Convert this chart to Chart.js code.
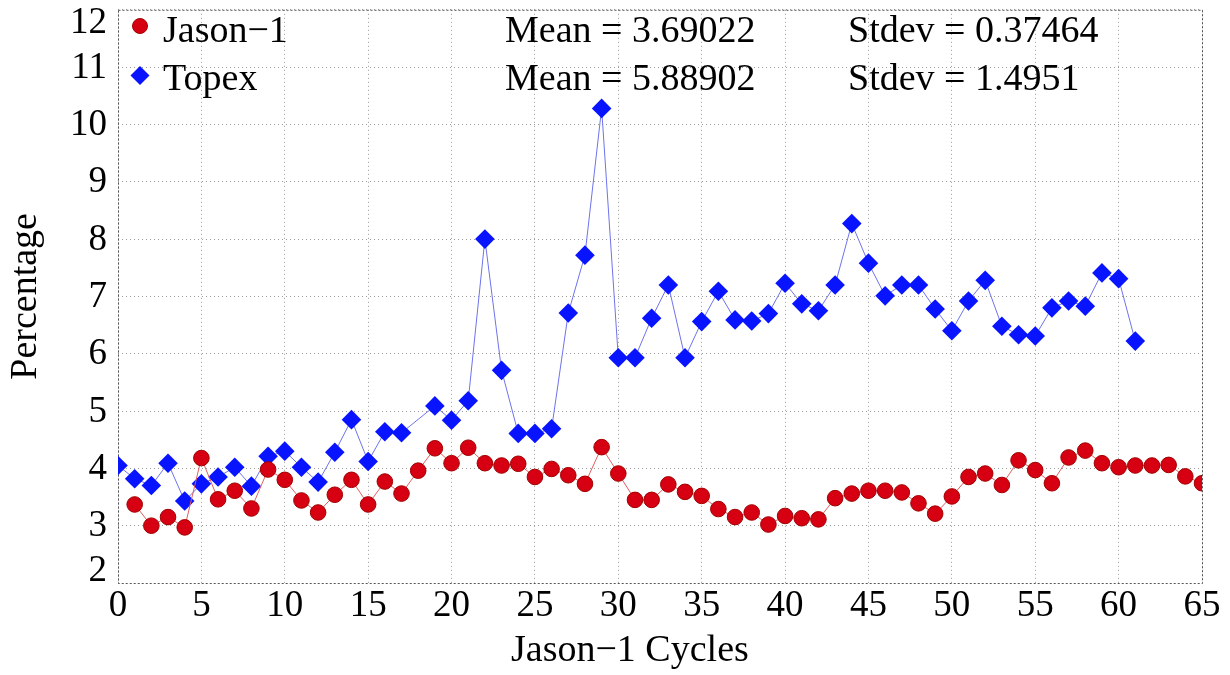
<!DOCTYPE html>
<html>
<head>
<meta charset="utf-8">
<title>Jason-1 / Topex</title>
<script src="https://cdn.jsdelivr.net/npm/chart.js@4.4.0/dist/chart.umd.min.js"></script>
<style>
  html, body { margin: 0; padding: 0; background: #fff; }
  #chart { display: block; }
</style>
</head>
<body>
<canvas id="chart" width="1230" height="675"></canvas>
<script>
// Jason-1 cycles and percentages
const jasonCycles = [1, 2, 3, 4, 5, 6, 7, 8, 9, 10, 11, 12, 13, 14, 15, 16, 17, 18, 19, 20,
    21, 22, 23, 24, 25, 26, 27, 28, 29, 30, 31, 32, 33, 34, 35, 36, 37, 38, 39, 40,
    41, 42, 43, 44, 45, 46, 47, 48, 49, 50, 51, 52, 53, 54, 55, 56, 57, 58, 59, 60,
    61, 62, 63, 64, 65];
const jasonValues = [3.37, 3.00, 3.15, 2.97, 4.18, 3.46, 3.61, 3.30, 3.98, 3.80,
    3.44, 3.23, 3.54, 3.80, 3.37, 3.77, 3.56, 3.96, 4.35, 4.09,
    4.36, 4.09, 4.05, 4.08, 3.85, 3.99, 3.88, 3.73, 4.37, 3.91,
    3.45, 3.45, 3.72, 3.59, 3.52, 3.29, 3.15, 3.23, 3.02, 3.17,
    3.13, 3.11, 3.48, 3.56, 3.61, 3.61, 3.58, 3.39, 3.21, 3.51,
    3.85, 3.91, 3.71, 4.14, 3.97, 3.74, 4.19, 4.31, 4.09, 4.02,
    4.05, 4.05, 4.06, 3.86, 3.74];

// Topex cycles (no value at 18) and percentages
const topexCycles = [0, 1, 2, 3, 4, 5, 6, 7, 8, 9, 10, 11, 12, 13, 14, 15, 16, 17, 19, 20,
    21, 22, 23, 24, 25, 26, 27, 28, 29, 30, 31, 32, 33, 34, 35, 36, 37, 38, 39, 40,
    41, 42, 43, 44, 45, 46, 47, 48, 49, 50, 51, 52, 53, 54, 55, 56, 57, 58, 59, 60, 61];
const topexValues = [4.05, 3.82, 3.70, 4.09, 3.43, 3.73, 3.85, 4.02, 3.69, 4.21,
    4.30, 4.02, 3.76, 4.28, 4.85, 4.12, 4.64, 4.62, 5.09, 4.84,
    5.18, 8.00, 5.71, 4.61, 4.61, 4.69, 6.71, 7.72, 10.28, 5.93,
    5.93, 6.62, 7.20, 5.93, 6.56, 7.09, 6.59, 6.57, 6.70, 7.23,
    6.87, 6.75, 7.20, 8.27, 7.58, 7.01, 7.20, 7.20, 6.78, 6.40,
    6.92, 7.28, 6.48, 6.33, 6.31, 6.80, 6.92, 6.83, 7.41, 7.31, 6.22];

const seriesNames = ['Jason\u22121', 'Topex'];
const statsLines = [
    ['Mean = 3.69022', 'Stdev = 0.37464'],
    ['Mean = 5.88902', 'Stdev = 1.4951']
];
const xTitle = 'Jason\u22121 Cycles';
const yTitle = 'Percentage';

const SERIF = "'Liberation Serif', 'Times New Roman', serif";
const RED = 'rgb(214, 0, 18)';
const BLUE = 'rgb(8, 20, 255)';

function toPoints(xs, ys) {
    return xs.map((x, i) => ({ x: x, y: ys[i] }));
}

// frame, y tick labels, x title, legend and statistics text
const overlayPlugin = {
    id: 'overlay',
    beforeDatasetsDraw(chart) {
        const { ctx, chartArea: a } = chart;
        ctx.save();
        ctx.strokeStyle = '#555';
        ctx.lineWidth = 1;
        ctx.setLineDash([2, 2]);
        ctx.strokeRect(a.left + 0.5, a.top + 0.5, a.right - a.left, a.bottom - a.top);
        ctx.restore();
    },
    afterDraw(chart) {
        const { ctx, chartArea: a } = chart;
        const yScale = chart.scales.y;
        ctx.save();
        ctx.fillStyle = '#000';

        // y tick labels, kept inside the frame height like the original
        ctx.font = '37px ' + SERIF;
        ctx.textAlign = 'right';
        ctx.textBaseline = 'middle';
        yScale.ticks.forEach(t => {
            let py = yScale.getPixelForValue(t.value);
            py = Math.min(Math.max(py, a.top + 12), a.bottom - 13);
            ctx.fillText(String(t.value), a.left - 11, py + 1);
        });

        // x axis title (sits a little left of centre in the original)
        ctx.textAlign = 'left';
        ctx.textBaseline = 'alphabetic';
        ctx.font = '38px ' + SERIF;
        ctx.fillText(xTitle, 511, 661);

        // legend
        ctx.fillStyle = RED;
        ctx.strokeStyle = 'rgb(160, 0, 0)';
        ctx.beginPath();
        ctx.arc(140, 26, 7.5, 0, Math.PI * 2);
        ctx.fill();
        ctx.stroke();
        ctx.fillStyle = BLUE;
        ctx.beginPath();
        ctx.moveTo(140, 66);
        ctx.lineTo(149.5, 75.5);
        ctx.lineTo(140, 85);
        ctx.lineTo(130.5, 75.5);
        ctx.closePath();
        ctx.fill();

        ctx.fillStyle = '#000';
        ctx.fillText(seriesNames[0], 163, 42);
        ctx.fillText(seriesNames[1], 163, 90);

        // statistics
        ctx.fillText(statsLines[0][0], 505, 42);
        ctx.fillText(statsLines[0][1], 848, 42);
        ctx.fillText(statsLines[1][0], 505, 90);
        ctx.fillText(statsLines[1][1], 848, 90);
        ctx.restore();
    }
};

const gridStyle = {
    color: '#9a9a9a',
    lineWidth: 1,
    drawTicks: false
};

new Chart(document.getElementById('chart'), {
    type: 'line',
    data: {
        datasets: [
            {
                label: seriesNames[0],
                data: toPoints(jasonCycles, jasonValues),
                borderColor: 'rgb(225, 95, 95)',
                borderWidth: 1,
                pointStyle: 'circle',
                pointRadius: 7.8,
                pointBackgroundColor: RED,
                pointBorderColor: 'rgb(160, 0, 0)',
                pointBorderWidth: 1,
                tension: 0,
                clip: 0
            },
            {
                label: seriesNames[1],
                data: toPoints(topexCycles, topexValues),
                borderColor: 'rgb(110, 115, 235)',
                borderWidth: 1,
                pointStyle: 'rectRot',
                pointRadius: 9.8,
                pointBackgroundColor: BLUE,
                pointBorderColor: BLUE,
                pointBorderWidth: 0,
                tension: 0,
                clip: 0
            }
        ]
    },
    options: {
        responsive: false,
        devicePixelRatio: 1,
        animation: false,
        layout: { padding: { left: 0, top: 9, right: 28, bottom: 0 } },
        plugins: {
            legend: { display: false },
            tooltip: { enabled: false }
        },
        scales: {
            x: {
                type: 'linear',
                min: 0,
                max: 65,
                ticks: {
                    stepSize: 5,
                    color: '#000',
                    font: { family: SERIF, size: 37 },
                    padding: 1,
                    maxRotation: 0
                },
                grid: gridStyle,
                border: { display: false, dash: [1, 3] },
                title: { display: false },
                afterFit(scale) { scale.height = 92; }
            },
            y: {
                type: 'linear',
                min: 2,
                max: 12,
                ticks: { stepSize: 1, display: false },
                grid: gridStyle,
                border: { display: false, dash: [1, 3] },
                title: {
                    display: true,
                    text: yTitle,
                    color: '#000',
                    font: { family: SERIF, size: 38 },
                    padding: { top: 3, bottom: 0 }
                },
                afterFit(scale) { scale.width = 118; }
            }
        }
    },
    plugins: [overlayPlugin]
});
</script>
</body>
</html>
